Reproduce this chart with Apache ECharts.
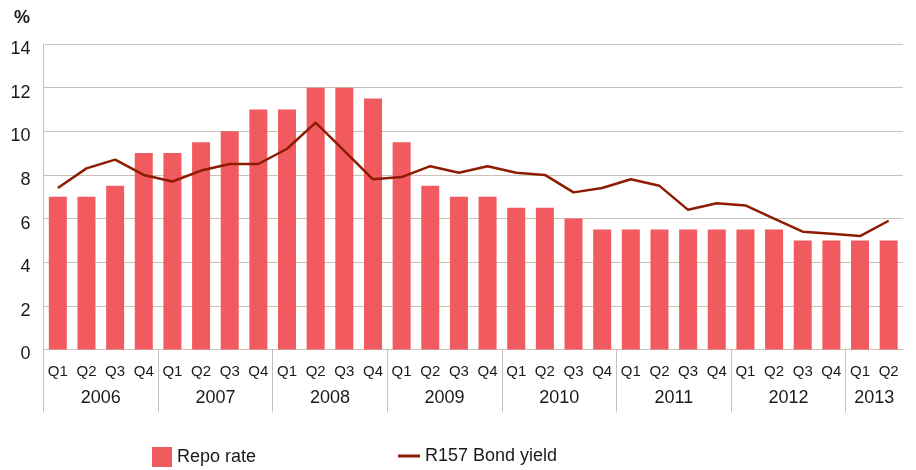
<!DOCTYPE html>
<html>
<head>
<meta charset="utf-8">
<script src="https://cdn.jsdelivr.net/npm/echarts@6/dist/echarts.min.js"></script>
<style>html,body{margin:0;padding:0;background:#fff}#c{width:916px;height:470px}</style>
</head>
<body>
<div id="c"></div>
<script>
var quarters = ['Q1','Q2','Q3','Q4','Q1','Q2','Q3','Q4','Q1','Q2','Q3','Q4','Q1','Q2','Q3','Q4','Q1','Q2','Q3','Q4','Q1','Q2','Q3','Q4','Q1','Q2','Q3','Q4','Q1','Q2'];
var years = ['2006','2007','2008','2009','2010','2011','2012','2013'];
var quartersPerYear = [4,4,4,4,4,4,4,2];
var repoRate = [7,7,7.5,9, 9,9.5,10,11, 11,12,12,11.5, 9.5,7.5,7,7, 6.5,6.5,6,5.5, 5.5,5.5,5.5,5.5, 5.5,5.5,5,5, 5,5];
var bondYield = [7.4,8.3,8.7,8.0, 7.7,8.2,8.5,8.5, 9.2,10.4,9.1,7.8, 7.9,8.4,8.1,8.4, 8.1,8.0,7.2,7.4, 7.8,7.5,6.4,6.7, 6.6,6.0,5.4,5.3, 5.2,5.9];
var yTicks = {min:0, max:14, interval:2};

// half-quarter slots for the year axis (boundaries and centres)
var slots = [];
for (var i = 0; i <= quarters.length * 2; i++) slots.push('');
var tickSlots = {};
var pos = 0;
tickSlots[0] = true;
for (var y = 0; y < years.length; y++) {
  var n = quartersPerYear[y];
  slots[pos + n] = years[y];
  pos += n * 2;
  if (y < years.length - 1) tickSlots[pos] = true;
}

var FONT = 'Liberation Sans, Arial, Helvetica, sans-serif';
var GRID = '#c9c0b6';
var TXT = '#1a1a1a';
var BAR = '#f15b5f';
var LINE = '#8e1c02';

var chart = echarts.init(document.getElementById('c'), null, {renderer:'canvas'});
chart.setOption({
  animation: false,
  textStyle: {fontFamily: FONT},
  title: {text: '%', left: 14, top: 9, textStyle: {fontFamily: FONT, fontSize: 18, fontWeight: 'bold', color: TXT}, padding: 0},
  grid: {left: 43.5, right: 13, top: 44, bottom: 120.5, containLabel: false},
  legend: [
    {data: ['Repo rate'], left: 152, top: 447, padding: 0, icon: 'rect', itemWidth: 20, itemHeight: 20, itemGap: 6,
     textStyle: {fontFamily: FONT, fontSize: 18, color: TXT}},
    {data: ['R157 Bond yield'], left: 398, top: 447, padding: 0, icon: 'rect', itemWidth: 22, itemHeight: 3,
     textStyle: {fontFamily: FONT, fontSize: 18, color: TXT}}
  ],
  xAxis: [
    {type: 'category', data: quarters, position: 'bottom',
     axisLine: {show: true, lineStyle: {color: GRID, width: 1}},
     axisTick: {show: false},
     axisLabel: {interval: 0, margin: 15, fontSize: 15, color: TXT, fontFamily: FONT}},
    {type: 'category', data: slots, boundaryGap: false, position: 'bottom',
     axisLine: {show: false},
     axisTick: {show: true, length: 63, lineStyle: {color: GRID, width: 1},
       interval: function (idx) { return !!tickSlots[idx]; }},
     axisLabel: {margin: 40, fontSize: 18, color: TXT, fontFamily: FONT,
       interval: function (idx, val) { return val !== ''; }},
     splitLine: {show: false}}
  ],
  yAxis: {type: 'value', min: yTicks.min, max: yTicks.max, interval: yTicks.interval,
    axisLine: {show: true, lineStyle: {color: GRID, width: 1}},
    axisTick: {show: false},
    splitLine: {show: true, lineStyle: {color: GRID, width: 1}},
    axisLabel: {margin: 13, color: TXT, fontFamily: FONT, formatter: '{v|{value}}',
      rich: {v: {fontSize: 18, color: TXT, fontFamily: FONT, padding: [10, 0, 0, 0]}}}
  },
  series: [
    {name: 'Repo rate', type: 'bar', data: repoRate, xAxisIndex: 0, barWidth: 18,
     itemStyle: {color: BAR}},
    {name: 'R157 Bond yield', type: 'line', data: bondYield, xAxisIndex: 0,
     showSymbol: false, symbol: 'none', lineStyle: {color: LINE, width: 2.5}, itemStyle: {color: LINE}, z: 3}
  ]
});
</script>
</body>
</html>
